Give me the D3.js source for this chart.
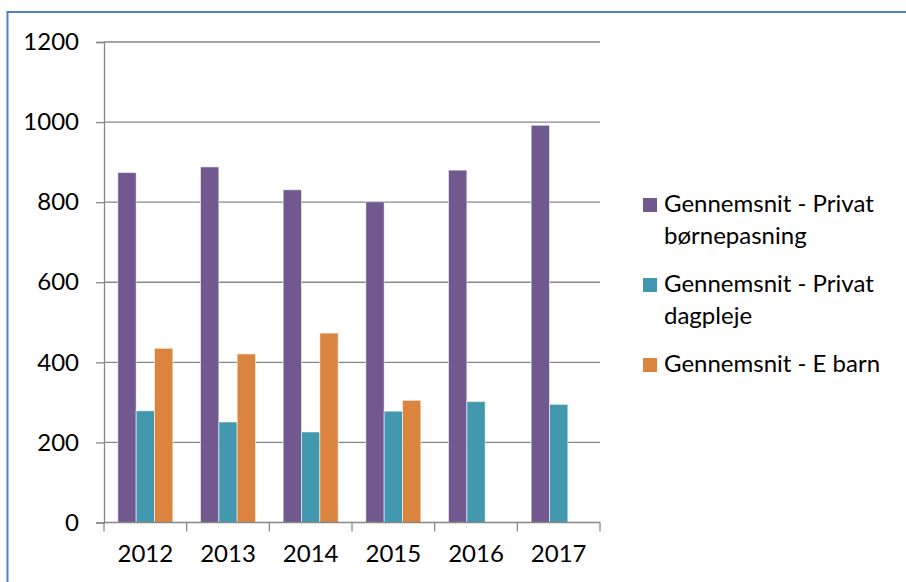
<!DOCTYPE html>
<html>
<head>
<meta charset="utf-8">
<script src="https://cdn.jsdelivr.net/npm/d3@7"></script>
<style>
  body { margin: 0; background: #fff; }
  svg text { font-family: Lato, "Open Sans", sans-serif; fill: #000; }
</style>
</head>
<body>
<div class="chart"></div>
<script>
const years = ["2012", "2013", "2014", "2015", "2016", "2017"];
const seriesNames = ["Gennemsnit - Privat børnepasning", "Gennemsnit - Privat dagpleje", "Gennemsnit - E barn"];
const privatBoernepasning = [874, 888, 831, 801, 880, 992];
const privatDagpleje = [279, 251, 226, 278, 302, 295];
const eBarn = [435, 421, 473, 305, null, null];
const yTicks = [0, 200, 400, 600, 800, 1000, 1200];
const colors = ["#71588F", "#4198AF", "#DB843D"];
// legend labels wrapped the way the picture shows them
const legendLines = [["Gennemsnit - Privat", "børnepasning"], ["Gennemsnit - Privat", "dagpleje"], ["Gennemsnit - E barn"]];

const width = 906, height = 582;
const plotLeft = 104, plotRight = 600, plotTop = 42, plotBottom = 522.5;
const fontSize = '24px';

let svg = d3.select('.chart').append('svg').attr('width', width).attr('height', height);

// outer chart border (only left and top edges are in view)
svg.append('path')
    .attr('d', `M7.5,${height} L7.5,12 L${width},12`)
    .attr('fill', 'none').attr('stroke', '#4F81BD').attr('stroke-width', 2);

let x = d3.scaleBand().domain(years).range([plotLeft, plotRight]).padding(0);
let xs = d3.scaleBand().domain([0, 1, 2]).range([0, x.bandwidth()]).paddingInner(0).paddingOuter(0.755);
let y = d3.scaleLinear().domain([0, 1200]).range([plotBottom, plotTop]);

// gridlines
svg.append('g').selectAll('line').data(yTicks.filter(d => d > 0)).enter().append('line')
    .attr('x1', plotLeft).attr('x2', plotRight)
    .attr('y1', d => y(d)).attr('y2', d => y(d))
    .attr('stroke', '#878787').attr('stroke-width', 1.3);

// bars
let series = [privatBoernepasning, privatDagpleje, eBarn];
let rows = [];
series.forEach((vals, s) => {
    vals.forEach((v, i) => {
        if (v != null) rows.push({year: years[i], s: s, v: v});
    });
});
svg.append('g').selectAll('rect').data(rows).enter().append('rect')
    .attr('x', d => x(d.year) + xs(d.s))
    .attr('width', xs.bandwidth())
    .attr('y', d => y(d.v))
    .attr('height', d => y(0) - y(d.v))
    .attr('fill', d => colors[d.s])
    .attr('stroke', 'rgba(255,255,255,0.55)').attr('stroke-width', 1);

// y axis
let yAxis = d3.axisLeft(y).tickValues(yTicks).tickFormat(d3.format('d')).tickSize(8).tickPadding(17);
let gy = svg.append('g').attr('transform', `translate(${plotLeft},0)`).call(yAxis);
gy.select('.domain').attr('stroke', '#878787').attr('stroke-width', 1.3);
gy.selectAll('.tick line').attr('stroke', '#878787').attr('stroke-width', 1.3);
gy.selectAll('.tick text').style('font-size', fontSize).attr('font-family', null);

// x axis
let xAxis = d3.axisBottom(x).tickSize(0).tickPadding(22);
let gx = svg.append('g').attr('transform', `translate(0,${plotBottom})`).call(xAxis);
gx.select('.domain').remove();
gx.append('line').attr('x1', plotLeft).attr('x2', plotRight).attr('y1', 0).attr('y2', 0)
    .attr('stroke', '#878787').attr('stroke-width', 1.3);
gx.selectAll('.sep').data(years.concat(['end'])).enter().append('line')
    .attr('x1', (d, i) => i < years.length ? x(d) : plotRight)
    .attr('x2', (d, i) => i < years.length ? x(d) : plotRight)
    .attr('y1', 0).attr('y2', 9)
    .attr('stroke', '#878787').attr('stroke-width', 1.3);
gx.selectAll('.tick text').style('font-size', fontSize).attr('font-family', null);

// legend
let legend = svg.append('g').attr('transform', 'translate(643,0)');
legendLines.forEach((lines, i) => {
    let baseY = 211.5 + i * 80;
    legend.append('rect').attr('x', 0).attr('y', baseY - 13.5).attr('width', 14).attr('height', 14)
        .attr('fill', colors[i]);
    let t = legend.append('text').attr('x', 21).attr('y', baseY).style('font-size', fontSize);
    lines.forEach((ln, j) => {
        t.append('tspan').attr('x', 21).attr('y', baseY + j * 32.5).text(ln);
    });
});
</script>
</body>
</html>
